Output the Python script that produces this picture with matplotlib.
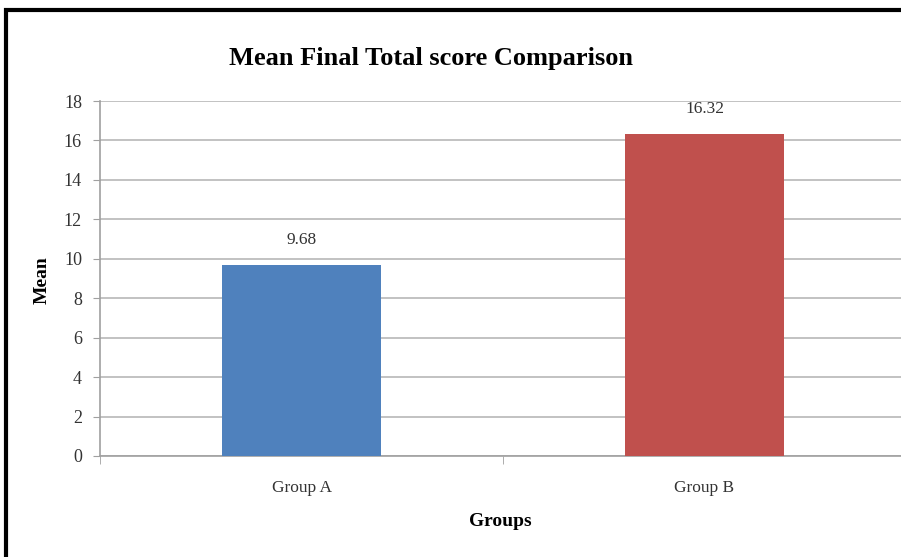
import matplotlib.pyplot as plt
from matplotlib.patches import Rectangle

groups = ["Group A", "Group B"]
means = [9.68, 16.32]
bar_colors = ["#4F81BD", "#C0504D"]
y_ticks = list(range(0, 19, 2))

plt.rcParams['font.family'] = ['Liberation Serif', 'DejaVu Serif']

fig = plt.figure(figsize=(9.01, 5.57), dpi=100)
ax = fig.add_axes([100 / 901, 1 - 456 / 557, 806 / 901, 355 / 557])

x = range(len(groups))
bars = ax.bar(x, means, width=0.395, color=bar_colors, zorder=3)
for b, v in zip(bars, means):
    ax.annotate(f"{v:.2f}", (b.get_x() + b.get_width() / 2, v),
                xytext=(0, 12), textcoords="offset points",
                ha="center", va="bottom", fontsize=12.5, color="#333333")

ax.set_xlim(-0.5, 1.5)
ax.set_ylim(0, 18)
ax.set_yticks(y_ticks)
ax.set_xticks(list(x))
ax.set_xticklabels(groups, fontsize=12.5, color="#333333")
ax.set_xticks([-0.5, 0.5, 1.5], minor=True)
ax.tick_params(axis="x", which="major", length=0, pad=17)
ax.tick_params(axis="x", which="minor", length=6, color="#a0a0a0")
ax.tick_params(axis="y", length=5, color="#a0a0a0", labelsize=13,
               labelcolor="#333333", pad=8)
ax.yaxis.grid(True, color="#b8b8b8", linewidth=1.2, zorder=0)

for side in ["top", "right"]:
    ax.spines[side].set_visible(False)
for side in ["left", "bottom"]:
    ax.spines[side].set_color("#a0a0a0")
    ax.spines[side].set_linewidth(1.2)

fig.text(431 / 901, 1 - 58 / 557, "Mean Final Total score Comparison",
         ha="center", va="center", fontsize=19, fontweight="bold")
fig.text(42 / 901, 1 - 280 / 557, "Mean", rotation=90,
         ha="center", va="center", fontsize=14, fontweight="bold")
fig.text(500 / 901, 1 - 522 / 557, "Groups",
         ha="center", va="center", fontsize=14, fontweight="bold")

# black frame, right/bottom sides fall off the image
fig.patches.append(Rectangle((6 / 901, -0.1), 1.1, 1 - 10 / 557 + 0.1,
                             transform=fig.transFigure, fill=False,
                             edgecolor="black", linewidth=3))

fig.savefig("out.png", dpi=100)
